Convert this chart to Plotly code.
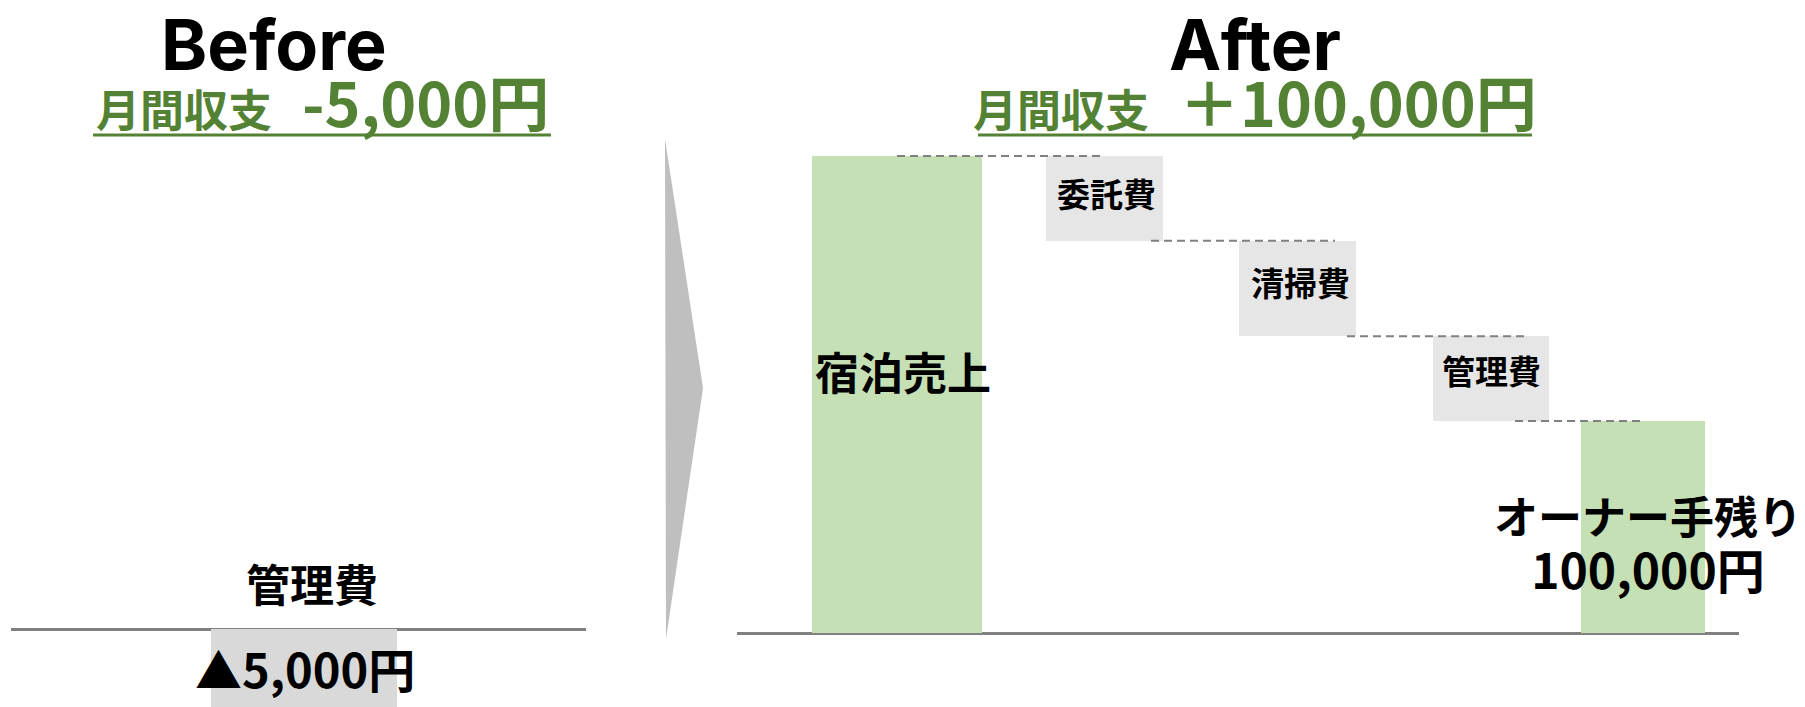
import plotly.graph_objects as go

# ---------------- data ----------------
before_labels = ["管理費"]
before_values = [-5000]
after_labels = ["宿泊売上", "委託費", "清掃費", "管理費", "オーナー手残り"]
after_values = [225000, -40000, -45000, -40000, 100000]
after_is_total = [True, False, False, False, True]
titles = ["Before", "After"]
sub_prefix = "月間収支"
sub_values = ["-5,000円", "＋100,000円"]
before_value_label = "▲5,000円"
owner_value_label = "100,000円"

# ---------------- layout constants ----------------
W, H = 1805, 707
FONT_JP = "Noto Sans CJK JP"
GREEN_TXT = "#548235"
GREEN_BAR = "#c5e0b4"
GRAY_BOX = "#e6e6e6"
GRAY_BAR = "#d9d9d9"
LINE_GRAY = "#808080"

def px(x):
    return x / W

def py(y):
    return 1 - y / H

# right chart geometry (x units = pixels from axis start)
R_X0, R_X1 = 737, 1739
R_ZERO, R_SCALE = 633, 0.00212      # pixel of zero, pixels per yen
r_centers = [160, 367.5, 560, 754, 906]
r_widths = [170, 117, 117, 116, 124]
r_colors = [GREEN_BAR, GRAY_BOX, GRAY_BOX, GRAY_BOX, GREEN_BAR]
conn_x = [(160, 368), (414, 598), (610, 788), (778, 904)]

# left chart geometry
L_X0, L_X1 = 11, 586
L_ZERO, L_SCALE = 629, 0.02
l_centers = [293]
l_widths = [186]

# waterfall bases / heights
bases, heights, levels = [], [], []
running = 0
for v, tot in zip(after_values, after_is_total):
    if tot:
        bases.append(0)
        heights.append(v)
        running = v
    else:
        bases.append(running + v)
        heights.append(-v)
        running = running + v
    levels.append(running)

fig = go.Figure()

fig.add_trace(go.Bar(
    x=l_centers, y=before_values, base=[0], width=l_widths,
    marker=dict(color=GRAY_BAR, line=dict(width=0)),
    xaxis="x", yaxis="y", showlegend=False, hoverinfo="skip"))

fig.add_trace(go.Bar(
    x=r_centers, y=heights, base=bases, width=r_widths,
    marker=dict(color=r_colors, line=dict(width=0)),
    xaxis="x2", yaxis="y2", showlegend=False, hoverinfo="skip"))

for (xa, xb), lv in zip(conn_x, levels[:-1]):
    fig.add_trace(go.Scatter(
        x=[xa, xb], y=[lv, lv], mode="lines",
        line=dict(color=LINE_GRAY, width=2, dash="8px,5px"),
        xaxis="x2", yaxis="y2", showlegend=False, hoverinfo="skip"))

ax_common = dict(showgrid=False, showticklabels=False, ticks="", showline=False)
fig.update_layout(
    width=W, height=H, autosize=False,
    margin=dict(l=0, r=0, t=0, b=0, pad=0),
    paper_bgcolor="white", plot_bgcolor="rgba(0,0,0,0)",
    bargap=0,
    xaxis=dict(domain=[px(L_X0), px(L_X1)], range=[0, L_X1 - L_X0], zeroline=False, **ax_common),
    yaxis=dict(domain=[0, 1], range=[-(H - L_ZERO) / L_SCALE, L_ZERO / L_SCALE],
               zeroline=True, zerolinecolor=LINE_GRAY, zerolinewidth=3, **ax_common),
    xaxis2=dict(domain=[px(R_X0), px(R_X1)], range=[0, R_X1 - R_X0], zeroline=False,
                anchor="y2", **ax_common),
    yaxis2=dict(domain=[0, 1], range=[-(H - R_ZERO) / R_SCALE, R_ZERO / R_SCALE],
                zeroline=True, zerolinecolor=LINE_GRAY, zerolinewidth=3, anchor="x2", **ax_common),
)

annotations = []

def ann(text, x, y, size, color="black", family=FONT_JP, yanchor="middle"):
    annotations.append(dict(
        text=text, x=px(x), y=py(y), xref="paper", yref="paper",
        xanchor="center", yanchor=yanchor, showarrow=False,
        font=dict(family=family, size=size, color=color)))

# titles
ann("<b>%s</b>" % titles[0], 274, 0, 70, family="Inter", yanchor="top")
ann("<b>%s</b>" % titles[1], 1255, 0, 70, family="Inter", yanchor="top")
# subtitles
SUB = "<b>%s&nbsp;&nbsp;&nbsp;<span style='font-size:61px'>%s</span></b>"
ann(SUB % (sub_prefix, sub_values[0]), 322, 101, 44, GREEN_TXT)
ann(SUB % (sub_prefix, sub_values[1]), 1255, 101, 44, GREEN_TXT)

# left labels
ann("<b>%s</b>" % before_labels[0], 312, 583, 44)
ann("<b>%s</b>" % before_value_label, 305, 667, 47)

# right labels
ann("<b>%s</b>" % after_labels[0], 903, 371, 44)
ann("<b>%s</b>" % after_labels[1], 1106, 193, 33)
ann("<b>%s</b>" % after_labels[2], 1300, 282, 33)
ann("<b>%s</b>" % after_labels[3], 1491, 370, 33)
ann("<b><span style='font-size:44px'>%s</span><br><span style='font-size:48px'>%s</span></b>"
    % (after_labels[4], owner_value_label), 1648, 543, 42)

shapes = [
    # underlines
    dict(type="line", xref="paper", yref="paper", x0=px(93), x1=px(551), y0=py(135), y1=py(135),
         line=dict(color=GREEN_TXT, width=3)),
    dict(type="line", xref="paper", yref="paper", x0=px(978), x1=px(1532), y0=py(135), y1=py(135),
         line=dict(color=GREEN_TXT, width=3)),
    # arrow
    dict(type="path", xref="paper", yref="paper",
         path="M %f,%f L %f,%f L %f,%f Z" % (px(665), py(139), px(703), py(388), px(666), py(639)),
         fillcolor="#bfbfbf", line=dict(width=0)),
]

fig.update_layout(annotations=annotations, shapes=shapes)

fig.write_html("out.html")
